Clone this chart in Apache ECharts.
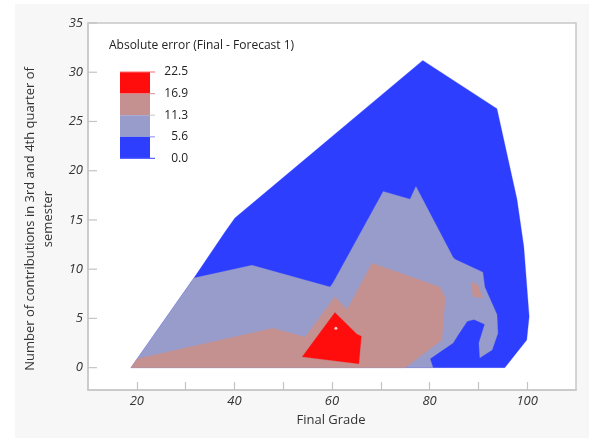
<!DOCTYPE html>
<html>
<head>
<meta charset="utf-8">
<script src="https://cdn.jsdelivr.net/npm/echarts@6/dist/echarts.min.js"></script>
<style>html,body{margin:0;padding:0;background:#fff}#c{width:589px;height:438px}</style>
</head>
<body>
<div id="c"></div>
<script>
// ---- data ----
const xTickValues = [20, 30, 40, 50, 60, 70, 80, 90, 100];
const xLabelValues = [20, 40, 60, 80, 100];
const yTickValues = [0, 5, 10, 15, 20, 25, 30, 35];
const legendLevels = [22.5, 16.9, 11.3, 5.6, 0.0];

// contour band 0.0 - 5.6 (outer hull)
const bandBlue = [[18.8,0],[31.7,9.1],[38.1,13.8],[40.1,15.2],[78.6,31.2],[93.8,26.3],[97.9,17.1],[99.3,12.3],[100.4,5.2],[99.9,2.8],[95.4,0]];
// band 5.6 - 11.3
const bandLavender = [[18.8,0],[31.7,9.1],[43.6,10.4],[59.6,8.2],[60.2,8.6],[70.5,17.9],[76.0,17.1],[77.2,18.4],[84.8,11.2],[85.2,11.0],[90.9,9.7],[91.3,8.2],[93.8,5.4],[94.0,3.5],[92.8,1.8],[90.3,1.0],[90.1,2.5],[91.3,4.4],[89.1,4.9],[87.7,4.7],[85.8,3.3],[84.8,2.5],[82.1,1.6],[80.1,0.9],[80.7,0]];
// band 11.3 - 16.9
const bandRose = [[18.8,0],[20.1,0.9],[47.9,4.0],[54.5,3.1],[60.6,7.2],[63.1,5.9],[68.2,10.6],[82.1,8.2],[83.2,7.1],[82.5,2.8],[75.0,0]];
const bandRoseSmall = [[88.5,8.7],[89.9,8.4],[90.9,7.1],[88.9,7.2]];
// band 16.9 - 22.5
const bandRed = [[53.9,1.1],[60.6,5.6],[65.1,3.4],[66.0,3.2],[65.5,0.4]];
const peakPoint = [[60.8,4.0]];

const bandColors = ['#ff0d0d', '#c49090', '#989cca', '#2d3eff']; // top to bottom of legend

// ---- chart ----
const chart = echarts.init(document.getElementById('c'), null, {renderer: 'canvas'});
const FONT = 'Open Sans';
const X_MIN = 10;

function polySeries(pts, color) {
  return {
    type: 'custom',
    data: pts,
    silent: true,
    z: 1,
    renderItem: function (params, api) {
      if (params.dataIndexInside !== 0) return;
      const points = pts.map(p => api.coord(p));
      return {type: 'polygon', shape: {points: points}, style: {fill: color, stroke: color, lineWidth: 0.3}};
    },
    encode: {x: 0, y: 1},
    clip: true
  };
}

// y-axis inward ticks, placed through the axis scale
const yTickSeries = {
  type: 'custom',
  data: yTickValues.map(v => [X_MIN, v]),
  silent: true,
  z: 6,
  clip: false,
  encode: {x: 0, y: 1},
  renderItem: function (params, api) {
    const p = api.coord([api.value(0), api.value(1)]);
    return {type: 'line', shape: {x1: p[0], y1: p[1], x2: p[0] + 9, y2: p[1]}, style: {stroke: '#c4c4c4', lineWidth: 1.2}};
  }
};

const legendGraphics = [];
const barX = 120, barW = 30, barTop = 72, segH = 21.6;
bandColors.forEach((c, i) => {
  legendGraphics.push({type: 'rect', shape: {x: barX, y: barTop + i * segH, width: barW, height: segH}, style: {fill: c}});
});
const tickColors = ['#ff6a6a', '#d9a0a0', '#d0d0d0', '#9aa0ff', '#5a66ff'];
legendLevels.forEach((v, i) => {
  const y = barTop + i * segH;
  const edge = (i === 0 || i === legendLevels.length - 1);
  legendGraphics.push({type: 'line', shape: {x1: edge ? barX : barX + barW, y1: y, x2: barX + barW + 5, y2: y}, style: {stroke: tickColors[i], lineWidth: 1.2}});
  legendGraphics.push({type: 'text', x: 188, y: y, style: {text: v.toFixed(1), fill: '#222', font: '12px "' + FONT + '"', align: 'right', verticalAlign: 'middle'}});
});

chart.setOption({
  backgroundColor: '#f7f7f7',
  animation: false,
  grid: {left: 88, right: 13, top: 23, bottom: 48, show: true, backgroundColor: '#ffffff', borderColor: '#c8c8c8', borderWidth: 1.5},
  xAxis: {
    type: 'value', min: X_MIN, max: 110, interval: 10, z: 5,
    axisLine: {show: true, onZero: false, lineStyle: {color: '#c8c8c8', width: 1.5}},
    axisTick: {show: true, inside: true, length: 8, customValues: xTickValues, lineStyle: {color: '#c4c4c4', width: 1.2}},
    axisLabel: {customValues: xLabelValues, margin: 5, color: '#333', fontStyle: 'italic', fontSize: 13, fontFamily: FONT},
    splitLine: {show: false}
  },
  yAxis: {
    type: 'value', min: -2.27, max: 35, z: 5,
    axisLine: {show: true, onZero: false, lineStyle: {color: '#c8c8c8', width: 1.5}},
    axisTick: {show: false},
    axisLabel: {customValues: yTickValues, margin: 5, color: '#333', fontStyle: 'italic', fontSize: 13, fontFamily: FONT},
    splitLine: {show: false}
  },
  graphic: [
    {type: 'rect', shape: {x: 0, y: 0, width: 15, height: 438}, style: {fill: '#fff'}},
    {type: 'rect', shape: {x: 0, y: 0, width: 589, height: 4}, style: {fill: '#fff'}},
    {type: 'text', x: 331, y: 420, style: {text: 'Final Grade', fill: '#333', font: '13px "' + FONT + '"', align: 'center', verticalAlign: 'middle'}},
    {type: 'text', x: 39, y: 219, rotation: Math.PI / 2, style: {text: 'Number of contributions in 3rd and 4th quarter of\nsemester', fill: '#333', font: '13px "' + FONT + '"', align: 'center', verticalAlign: 'middle', lineHeight: 18}},
    {type: 'text', x: 109, y: 46, style: {text: 'Absolute error (Final - Forecast 1)', fill: '#222', font: '12px "' + FONT + '"', align: 'left', verticalAlign: 'middle'}}
  ].concat(legendGraphics),
  series: [
    polySeries(bandBlue, bandColors[3]),
    polySeries(bandLavender, bandColors[2]),
    polySeries(bandRose, bandColors[1]),
    polySeries(bandRoseSmall, bandColors[1]),
    polySeries(bandRed, bandColors[0]),
    {type: 'scatter', data: peakPoint, symbolSize: 3, itemStyle: {color: '#fff'}, silent: true, z: 2},
    yTickSeries
  ]
});
</script>
</body>
</html>
